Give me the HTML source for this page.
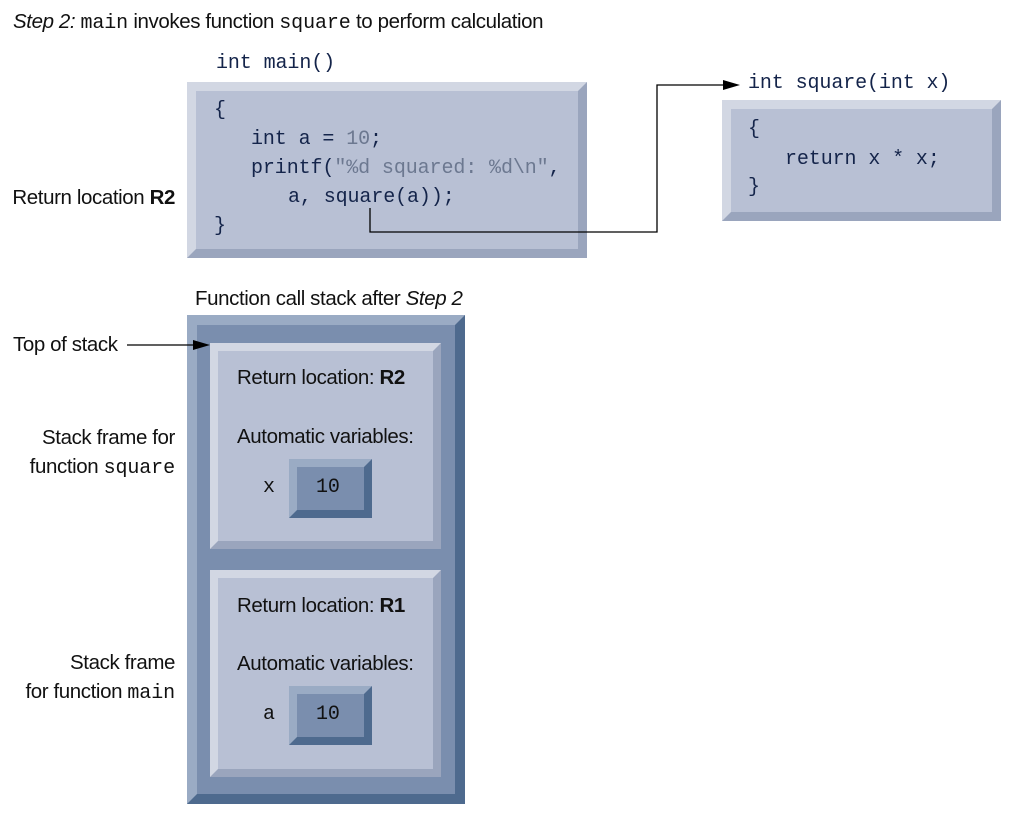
<!DOCTYPE html>
<html><head><meta charset="utf-8"><style>
body{margin:0;width:1017px;height:818px;background:#fff;position:relative;overflow:hidden;font-family:"Liberation Sans",sans-serif;color:#111;}
.a{position:absolute;white-space:nowrap;}
.s{font-size:20.5px;letter-spacing:-0.4px;line-height:22px;}
.r{text-align:right;width:175px;left:0;}
.m{font-family:"Liberation Mono",monospace;font-size:20px;letter-spacing:-0.1px;color:#14244a;line-height:22px;}
.bx{position:absolute;box-sizing:border-box;border-style:solid;}
.lt{background:#b8c0d4;border-color:#d2d7e3 #9aa5bd #9aa5bd #d2d7e3;}
.dk{background:#7a8eae;border-color:#9aabc4 #4e6a8e #4e6a8e #9aabc4;}
.g{color:#6c7890;}
</style></head><body>
<div class="a s" style="left:13px;top:11px"><i>Step 2:</i> <span class="m" style="color:#111">main</span> invokes function <span class="m" style="color:#111">square</span> to perform calculation</div>
<div class="a m" style="left:216px;top:53px">int main()</div>
<div class="bx lt" style="left:187px;top:82px;width:400px;height:176px;border-width:9px"></div>
<div class="a m" style="left:214px;top:100px">{</div>
<div class="a m" style="left:251px;top:129px">int a = <span class="g">10</span>;</div>
<div class="a m" style="left:251px;top:158px">printf(<span class="g">"%d squared: %d\n"</span>,</div>
<div class="a m" style="left:288px;top:187px">a, square(a));</div>
<div class="a m" style="left:214px;top:216px">}</div>
<div class="a s r" style="top:187px">Return location <b>R2</b></div>

<div class="a m" style="left:748px;top:73px">int square(int x)</div>
<div class="bx lt" style="left:722px;top:100px;width:279px;height:121px;border-width:9px"></div>
<div class="a m" style="left:748px;top:119px">{</div>
<div class="a m" style="left:785px;top:149px">return x * x;</div>
<div class="a m" style="left:748px;top:177px">}</div>

<svg class="a" style="left:0;top:0" width="1017" height="818">
<polyline points="370,208 370,232 657,232 657,85 724,85" fill="none" stroke="#000" stroke-width="1.3"/>
<polygon points="740,85 723,80 723,90" fill="#000"/>
</svg>

<div class="a s" style="left:195px;top:288px">Function call stack after <i>Step 2</i></div>
<div class="bx dk" style="left:187px;top:315px;width:278px;height:489px;border-width:10px"></div>
<div class="bx lt" style="left:210px;top:343px;width:231px;height:206px;border-width:8px"></div>
<div class="bx lt" style="left:210px;top:570px;width:231px;height:207px;border-width:8px"></div>
<div class="a s" style="left:237px;top:367px">Return location: <b>R2</b></div>
<div class="a s" style="left:237px;top:426px">Automatic variables:</div>
<div class="a m" style="left:263px;top:477px;color:#111">x</div>
<div class="bx dk" style="left:289px;top:459px;width:83px;height:59px;border-width:8px"></div>
<div class="a m" style="left:316px;top:477px;color:#111">10</div>
<div class="a s" style="left:237px;top:595px">Return location: <b>R1</b></div>
<div class="a s" style="left:237px;top:653px">Automatic variables:</div>
<div class="a m" style="left:263px;top:704px;color:#111">a</div>
<div class="bx dk" style="left:289px;top:686px;width:83px;height:59px;border-width:8px"></div>
<div class="a m" style="left:316px;top:704px;color:#111">10</div>

<div class="a s" style="left:13px;top:334px">Top of stack</div>
<svg class="a" style="left:0;top:0" width="1017" height="818">
<line x1="127" y1="345" x2="194" y2="345" stroke="#000" stroke-width="1.3"/>
<polygon points="210,345 193,340 193,350" fill="#000"/>
</svg>
<div class="a s r" style="top:427px">Stack frame for</div>
<div class="a s r" style="top:456px">function <span class="m" style="color:#111">square</span></div>
<div class="a s r" style="top:652px">Stack frame</div>
<div class="a s r" style="top:681px">for function <span class="m" style="color:#111">main</span></div>
</body></html>
